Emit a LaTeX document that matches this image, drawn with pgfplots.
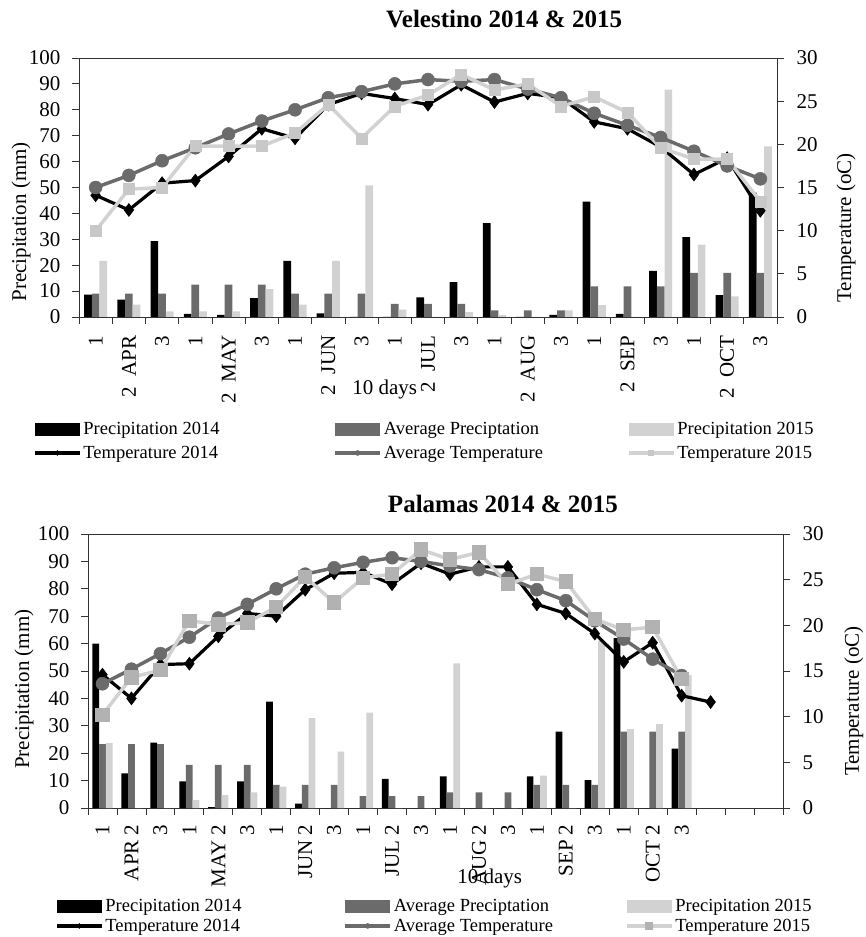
\documentclass[border=0pt]{standalone}
\usepackage{fontspec}
\setmainfont{Liberation Serif}
\usepackage{pgfplots}
\usepackage{pgfplotstable}
\pgfplotsset{compat=1.18}
\definecolor{dgrey}{HTML}{6B6B6B}
\definecolor{lgrey}{HTML}{D2D2D2}
\definecolor{sqgrey}{HTML}{C8C8C8}
\newcommand\tickfont{\fontsize{21}{23}\selectfont}
\newcommand\labfont{\fontsize{21}{23}\selectfont}
\newcommand\legfont{\fontsize{18.5}{21}\selectfont}
\newcommand\titfont{\fontsize{25}{28}\selectfont\bfseries}

\pgfplotstableread{
x p14 pavg p15 t14 tavg t15
0 8.6 9.0 21.7 14.1 15.0 10.0
1 6.7 9.0 4.8 12.4 16.4 14.8
2 29.3 9.0 2.2 15.5 18.1 15.0
3 1.2 12.5 2.2 15.8 19.6 19.8
4 0.8 12.5 2.2 18.6 21.2 19.8
5 7.3 12.5 10.8 21.8 22.7 19.8
6 21.7 9.0 4.8 20.7 24.0 21.3
7 1.4 9.0 21.7 24.6 25.4 24.6
8 0 9.0 50.8 25.9 26.1 20.7
9 0 5.1 2.8 25.3 27.0 24.4
10 7.6 5.1 0 24.6 27.5 25.7
11 13.5 5.1 1.9 26.9 27.3 28.1
12 36.2 2.6 0.8 24.9 27.5 26.3
13 0 2.6 0 25.9 26.4 27.0
14 0.8 2.6 2.6 25.4 25.4 24.4
15 44.5 11.8 4.6 22.6 23.6 25.5
16 1.2 11.8 0 21.8 22.2 23.7
17 17.8 11.8 87.8 19.7 20.8 19.6
18 30.8 17.0 27.9 16.5 19.2 18.3
19 8.4 17.0 8.0 18.4 17.5 18.3
20 48.0 17.0 65.9 12.3 16.0 13.4
}\veltab

\pgfplotstableread{
x p14 pavg p15 t14 tavg t15
0 60 23.3 23.7 14.6 13.6 10.2
1 12.6 23.3 0 12.0 15.2 14.3
2 23.9 23.3 0 15.7 16.9 15.1
3 9.7 15.7 2.9 15.8 18.7 20.5
4 0.3 15.7 4.7 18.8 20.8 20.1
5 9.7 15.7 5.7 21.3 22.3 20.3
6 38.8 8.4 7.8 21.0 24.0 22.0
7 1.6 8.4 32.8 23.9 25.6 25.3
8 0 8.4 20.6 25.7 26.3 22.5
9 0 4.3 34.8 25.8 26.9 25.2
10 10.6 4.3 0 24.5 27.4 25.6
11 0 4.3 0 26.8 27.0 28.3
12 11.5 5.7 52.8 25.6 26.5 27.2
13 0 5.7 0 26.4 26.1 28.0
14 0 5.7 0 26.4 25.2 24.5
15 11.5 8.4 11.8 22.3 23.9 25.6
16 27.9 8.4 0 21.3 22.7 24.8
17 10.2 8.4 61 19.1 20.5 20.7
18 62 27.9 28.8 16.0 18.5 19.5
19 0 27.9 30.6 18.1 16.3 19.8
20 21.7 27.9 48.5 12.3 14.5 14.1
21 nan nan nan 11.6 nan nan
}\paltab

\pgfplotsset{
  base/.style={scale only axis, anchor=south west, xmin=-0.5,
    tick align=outside, major tick length=7pt,
    axis line style={black!80, line width=0.8pt},
    every tick/.style={black!80, line width=0.8pt},
    /pgf/number format/assume math mode=true,
    yticklabel style={font=\tickfont},
    ylabel style={font=\labfont}, xlabel style={font=\labfont}},
  barA/.style={ybar, bar width=0.232, bar shift=-0.232, fill=black, draw=none},
  barB/.style={ybar, bar width=0.232, bar shift=0, fill=dgrey, draw=none},
  barC/.style={ybar, bar width=0.232, bar shift=0.232, fill=lgrey, draw=none},
  lA/.style={black, line width=3.2pt, mark=diamond*, mark size=6.5pt, mark options={solid, fill=black, line width=0.5pt}},
  lB/.style={dgrey, line width=3.5pt, mark=*, mark size=6.5pt, mark options={solid, fill=dgrey, draw=dgrey, line width=0.5pt}},
  lC/.style={lgrey, line width=3.5pt, mark=square*, mark size=5.5pt, mark options={solid, fill=sqgrey, draw=sqgrey, line width=0.5pt}},
  barleg/.style={legend image code/.code={\fill[draw=none] (0pt,-6.5pt) rectangle (45pt,6.5pt);}},
  linleg/.style={legend image code/.code={\draw[mark size=2.5pt, mark repeat=2, mark phase=2] plot coordinates {(0pt,0pt) (22.5pt,0pt) (45pt,0pt)};}},
}

\begin{document}
\begin{tikzpicture}
\useasboundingbox (0pt,0pt) rectangle (865pt,937pt);

% ---------------- Velestino ----------------
\begin{axis}[base, at={(79pt,620pt)}, width=698pt, height=259pt,
  xmax=20.5, ymin=0, ymax=100, ytick={0,10,...,100},
  ytick pos=left, xtick pos=bottom,
  yticklabel style={xshift=-8pt},
  xtick={0,...,20},
  xticklabels={1,{2\ \ APR},3,1,{2\ \ MAY},3,1,{2\ \ JUN},3,1,{2\ \ JUL},3,1,{2\ \ AUG},3,1,{2\ \ SEP},3,1,{2\ \ OCT},3},
  xticklabel style={rotate=90, anchor=east, font=\tickfont},
  xticklabel shift=8pt,
  xtick style={draw=none},
  extra x ticks={-0.5,0.5,...,20.5}, extra x tick labels={},
  extra x tick style={xtick style={draw=black!80}},
  ylabel={Precipitation (mm)},
  ylabel style={at={(axis description cs:-0.083,0.367)}, anchor=center},
  xlabel={10 days},
  xlabel style={at={(axis description cs:0.438,-0.278)}, anchor=center},
  title={Velestino 2014 \& 2015},
  title style={at={(axis description cs:0.609,1.127)}, anchor=center, font=\titfont},
]
\addplot[barA] table[x=x,y=p14] {\veltab};
\addplot[barB] table[x=x,y=pavg] {\veltab};
\addplot[barC] table[x=x,y=p15] {\veltab};
\end{axis}
\begin{axis}[base, at={(79pt,620pt)}, width=698pt, height=259pt,
  xmax=20.5, ymin=0, ymax=30, ytick={0,5,...,30},
  axis y line*=right, hide x axis, clip=false,
  yticklabel style={xshift=9pt},
  ylabel={Temperature (oC)},
  ylabel style={at={(axis description cs:1.099,0.344)}, anchor=center, rotate=0},
  legend columns=3, legend cell align=left,
  legend style={at={(axis description cs:-0.0659,-0.398)}, anchor=north west,
    draw=none, fill=none, inner sep=0pt, column sep=0pt, row sep=6pt,
    font=\legfont, nodes={inner sep=2pt}},
]
\addlegendimage{barleg, fill=black, draw=none}
\addlegendentry{\makebox[248pt][l]{Precipitation 2014}}
\addlegendimage{barleg, fill=dgrey, draw=none}
\addlegendentry{\makebox[241pt][l]{Average Preciptation}}
\addlegendimage{barleg, fill=lgrey, draw=none}
\addlegendentry{Precipitation 2015}
\addplot[lA, linleg] table[x=x,y=t14] {\veltab};
\addlegendentry{Temperature 2014}
\addplot[lB, linleg] table[x=x,y=tavg] {\veltab};
\addlegendentry{Average Temperature}
\addplot[lC, linleg] table[x=x,y=t15] {\veltab};
\addlegendentry{Temperature 2015}
\end{axis}

% ---------------- Palamas ----------------
\begin{axis}[base, at={(88pt,129pt)}, width=695pt, height=274pt,
  xmax=23.5, ymin=0, ymax=100, ytick={0,10,...,100},
  ytick pos=left, xtick pos=bottom,
  yticklabel style={xshift=-8pt},
  xtick={0,...,20},
  xticklabels={1,{APR 2},3,1,{MAY 2},3,1,{JUN 2},3,1,{JUL 2},3,1,{AUG 2},3,1,{SEP 2},3,1,{OCT 2},3},
  xticklabel style={rotate=90, anchor=east, font=\tickfont},
  xticklabel shift=6pt,
  xtick style={draw=none},
  extra x ticks={-0.5,0.5,...,23.5}, extra x tick labels={},
  extra x tick style={xtick style={draw=black!80}},
  ylabel={Precipitation (mm)},
  ylabel style={at={(axis description cs:-0.092,0.434)}, anchor=center},
  xlabel={10 days},
  xlabel style={at={(axis description cs:0.578,-0.259)}, anchor=center},
  title={Palamas 2014 \& 2015},
  title style={at={(axis description cs:0.597,1.088)}, anchor=center, font=\titfont},
]
\addplot[barA] table[x=x,y=p14] {\paltab};
\addplot[barB] table[x=x,y=pavg] {\paltab};
\addplot[barC] table[x=x,y=p15] {\paltab};
\end{axis}
\begin{axis}[base, at={(88pt,129pt)}, width=695pt, height=274pt,
  xmax=23.5, ymin=0, ymax=30, ytick={0,5,...,30},
  axis y line*=right, hide x axis, clip=false,
  yticklabel style={xshift=9pt},
  ylabel={Temperature (oC)},
  ylabel style={at={(axis description cs:1.102,0.39)}, anchor=center, rotate=0},
  legend columns=3, legend cell align=left,
  legend style={at={(axis description cs:-0.0475,-0.325)}, anchor=north west,
    draw=none, fill=none, inner sep=0pt, column sep=0pt, row sep=2pt,
    font=\legfont, nodes={inner sep=2pt}},
]
\addlegendimage{barleg, fill=black, draw=none}
\addlegendentry{\makebox[236pt][l]{Precipitation 2014}}
\addlegendimage{barleg, fill=dgrey, draw=none}
\addlegendentry{\makebox[229pt][l]{Average Preciptation}}
\addlegendimage{barleg, fill=lgrey, draw=none}
\addlegendentry{Precipitation 2015}
\addplot[lA, linleg] table[x=x,y=t14] {\paltab};
\addlegendentry{Temperature 2014}
\addplot[lB, linleg] table[x=x,y=tavg] {\paltab};
\addlegendentry{Average Temperature}
\addplot[lC, linleg, mark options={fill=black!30, draw=black!30}] table[x=x,y=t15] {\paltab};
\addlegendentry{Temperature 2015}
\end{axis}
\end{tikzpicture}
\end{document}
